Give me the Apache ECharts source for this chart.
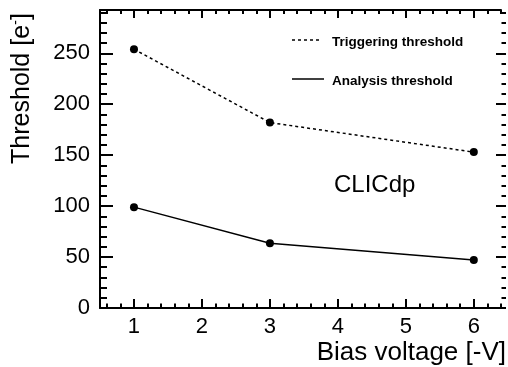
<!DOCTYPE html>
<html>
<head>
<meta charset="utf-8">
<script src="https://cdn.jsdelivr.net/npm/echarts@6/dist/echarts.min.js"></script>
<style>
  html, body { margin: 0; padding: 0; background: #fff; }
  #chart { width: 508px; height: 367px; }
</style>
</head>
<body>
<div id="chart"></div>
<script>
// Pixel threshold vs. sensor bias voltage
const biasVoltage = [1, 3, 6];
const triggeringThreshold = [254, 182, 153];
const analysisThreshold = [99, 63.5, 47];

const xMajorTicks = [1, 2, 3, 4, 5, 6];
const yMajorTicks = [0, 50, 100, 150, 200, 250];

const X_MIN = 0.5, X_MAX = 6.4;
const Y_MIN = 0, Y_MAX = 292.5;

// minor tick positions: 5 subdivisions per major step
const xMinorTicks = [];
for (let i = 3; i <= 32; i++) {
  const v = Math.round(i * 0.2 * 10) / 10;
  if (v >= X_MIN && v <= X_MAX && Math.abs(v - Math.round(v)) > 1e-6) xMinorTicks.push(v);
}
const yMinorTicks = [];
for (let v = 10; v <= Y_MAX; v += 10) {
  if (v % 50 !== 0) yMinorTicks.push(v);
}

const FONT = '"Liberation Sans", Arial, Helvetica, sans-serif';
const INK = '#000';

function tickAxis(base, values, length, showLine, labels) {
  return Object.assign({
    type: 'value',
    axisLine: { show: showLine, onZero: false, lineStyle: { color: INK, width: 2 } },
    axisTick: { show: true, inside: true, length: length, customValues: values,
                lineStyle: { color: INK, width: 2 } },
    axisLabel: labels || { show: false },
    splitLine: { show: false },
    minorTick: { show: false },
    silent: true
  }, base);
}

const chart = echarts.init(document.getElementById('chart'), null, { renderer: 'canvas' });

chart.setOption({
  backgroundColor: '#fff',
  animation: false,
  grid: { left: 100, right: 7, top: 10, bottom: 59, outerBoundsMode: 'none' },
  xAxis: [
    tickAxis({ position: 'bottom', min: X_MIN, max: X_MAX }, xMajorTicks, 9, true,
      { show: true, customValues: xMajorTicks, color: INK, fontSize: 22, fontFamily: FONT, margin: 8 }),
    tickAxis({ position: 'bottom', min: X_MIN, max: X_MAX }, xMinorTicks, 4.5, false),
    tickAxis({ position: 'top', min: X_MIN, max: X_MAX }, xMajorTicks, 8, true),
    tickAxis({ position: 'top', min: X_MIN, max: X_MAX }, xMinorTicks, 4, false)
  ],
  yAxis: [
    tickAxis({ position: 'left', min: Y_MIN, max: Y_MAX }, yMajorTicks, 13, true,
      { show: true, customValues: yMajorTicks, color: INK, fontSize: 22, fontFamily: FONT, margin: 10 }),
    tickAxis({ position: 'left', min: Y_MIN, max: Y_MAX }, yMinorTicks, 7, false),
    tickAxis({ position: 'right', offset: 5, min: Y_MIN, max: Y_MAX }, yMajorTicks, 10, false),
    tickAxis({ position: 'right', offset: 5, min: Y_MIN, max: Y_MAX }, yMinorTicks, 4.5, false)
  ],
  series: [
    {
      name: 'Triggering threshold',
      type: 'line',
      xAxisIndex: 0, yAxisIndex: 0,
      data: biasVoltage.map((v, i) => [v, triggeringThreshold[i]]),
      symbol: 'circle', symbolSize: 8,
      itemStyle: { color: INK },
      lineStyle: { color: INK, width: 1.5, type: [3, 3] }
    },
    {
      name: 'Analysis threshold',
      type: 'line',
      xAxisIndex: 0, yAxisIndex: 0,
      data: biasVoltage.map((v, i) => [v, analysisThreshold[i]]),
      symbol: 'circle', symbolSize: 8,
      itemStyle: { color: INK },
      lineStyle: { color: INK, width: 1.5, type: 'solid' }
    }
  ],
  graphic: [
    // legend
    { type: 'line', shape: { x1: 292, y1: 40, x2: 322, y2: 40 },
      style: { stroke: INK, lineWidth: 1.5, lineDash: [3, 3] } },
    { type: 'text', x: 332, y: 42, style: { text: 'Triggering threshold', fill: INK,
      font: 'bold 13.5px ' + FONT, textAlign: 'left', textVerticalAlign: 'middle' } },
    { type: 'line', shape: { x1: 292, y1: 79, x2: 324, y2: 79 },
      style: { stroke: INK, lineWidth: 1.5 } },
    { type: 'text', x: 332, y: 81, style: { text: 'Analysis threshold', fill: INK,
      font: 'bold 13.5px ' + FONT, textAlign: 'left', textVerticalAlign: 'middle' } },
    // label
    { type: 'text', x: 334, y: 185, style: { text: 'CLICdp', fill: INK,
      font: '24px ' + FONT, textAlign: 'left', textVerticalAlign: 'middle' } },
    // axis titles
    { type: 'text', x: 506, y: 353, style: { text: 'Bias voltage [-V]', fill: INK,
      font: '26px ' + FONT, textAlign: 'right', textVerticalAlign: 'middle' } },
    { type: 'text', x: 22, y: 13, rotation: Math.PI / 2,
      style: { text: 'Threshold [e{sup|-}]', fill: INK, font: '25px ' + FONT,
        textAlign: 'right', textVerticalAlign: 'middle',
        rich: { sup: { fontSize: 15, fontFamily: FONT, verticalAlign: 'top', padding: [0, 0, 12, 0] } } } }
  ]
});
</script>
</body>
</html>
